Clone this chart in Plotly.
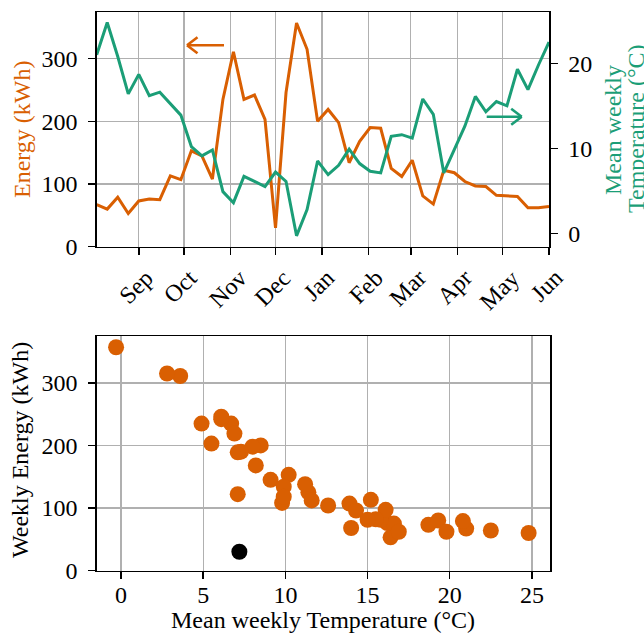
import plotly.graph_objects as go

# ---------------- data ----------------
weeks = [
    "2014-08-04", "2014-08-11", "2014-08-18", "2014-08-25",
    "2014-09-01", "2014-09-08", "2014-09-15", "2014-09-22", "2014-09-29",
    "2014-10-06", "2014-10-13", "2014-10-20", "2014-10-27",
    "2014-11-03", "2014-11-10", "2014-11-17", "2014-11-24",
    "2014-12-01", "2014-12-08", "2014-12-15", "2014-12-22", "2014-12-29",
    "2015-01-05", "2015-01-12", "2015-01-19", "2015-01-26",
    "2015-02-02", "2015-02-09", "2015-02-16", "2015-02-23",
    "2015-03-02", "2015-03-09", "2015-03-16", "2015-03-23", "2015-03-30",
    "2015-04-06", "2015-04-13", "2015-04-20", "2015-04-27",
    "2015-05-04", "2015-05-11", "2015-05-18", "2015-05-25",
    "2015-06-01",
]
energy_kwh = [
    67, 60, 79, 53, 73, 76, 75, 113, 107,
    153, 145, 108, 235, 311, 235, 242, 203,
    30, 246, 357, 315, 200, 219, 198, 134, 168,
    190, 189, 125, 112, 138, 81, 68, 122, 118,
    104, 97, 96, 82, 81, 80, 62, 62, 64,
]
temp_c = [
    21.0, 24.8, 20.8, 16.4, 18.7, 16.2, 16.6, 15.2, 13.9,
    10.2, 9.1, 9.8, 4.9, 3.6, 6.7, 6.1, 5.5,
    7.2, 6.1, -0.3, 2.8, 8.5, 6.9, 8.0, 9.9, 8.2,
    7.3, 7.1, 11.4, 11.6, 11.2, 15.8, 14.0, 7.1, 9.9,
    12.6, 16.1, 14.3, 15.5, 15.0, 19.3, 16.9, 19.8, 22.5,
]
outlier_week = "2014-12-01"

month_ticks = ["2014-09-01", "2014-10-01", "2014-11-01", "2014-12-01",
               "2015-01-01", "2015-02-01", "2015-03-01", "2015-04-01",
               "2015-05-01", "2015-06-01"]
month_labels = ["Sep", "Oct", "Nov", "Dec", "Jan", "Feb", "Mar", "Apr", "May", "Jun"]
energy_ticks = [0, 100, 200, 300]
temp_ticks = [0, 10, 20]
scatter_x_ticks = [0, 5, 10, 15, 20, 25]

# ---------------- style ----------------
ORANGE = "#D95F02"
GREEN = "#1B9E77"
GRID = "#b0b0b0"
FONT = "Liberation Serif"
FS = 24
W, H = 644, 642


def px(x):
    return x / W


def py(y):
    return 1 - y / H


fig = go.Figure()

fig.add_trace(go.Scatter(x=weeks, y=energy_kwh, mode="lines",
                         line=dict(color=ORANGE, width=3),
                         xaxis="x", yaxis="y", showlegend=False))
fig.add_trace(go.Scatter(x=weeks, y=temp_c, mode="lines",
                         line=dict(color=GREEN, width=3),
                         xaxis="x", yaxis="y2", showlegend=False))

normal = [i for i, w in enumerate(weeks) if w != outlier_week]
odd = [i for i, w in enumerate(weeks) if w == outlier_week]
fig.add_trace(go.Scatter(x=[temp_c[i] for i in normal], y=[energy_kwh[i] for i in normal],
                         mode="markers", marker=dict(color=ORANGE, size=16, line=dict(width=0)),
                         xaxis="x2", yaxis="y3", showlegend=False))
fig.add_trace(go.Scatter(x=[temp_c[i] for i in odd], y=[energy_kwh[i] for i in odd],
                         mode="markers", marker=dict(color="black", size=16, line=dict(width=0)),
                         xaxis="x2", yaxis="y3", showlegend=False))

axis_common = dict(
    showline=True, linecolor="black", linewidth=1.5,
    ticks="outside", ticklen=7, tickwidth=1.5, tickcolor="black",
    zeroline=False, automargin=False,
    tickfont=dict(family=FONT, size=FS, color="black"),
)

top_dom_x = [px(96.7), px(549)]
top_dom_y = [py(246.7), py(12.3)]
bot_dom_x = [px(96.7), px(550)]
bot_dom_y = [py(570.5), py(336)]

fig.update_layout(
    width=W, height=H, autosize=False,
    margin=dict(l=0, r=0, t=0, b=0),
    paper_bgcolor="white", plot_bgcolor="white",
    hovermode=False,
    font=dict(family=FONT, size=FS, color="black"),
    xaxis=dict(domain=top_dom_x, anchor="y", type="date",
               range=["2014-08-04", "2015-06-01"],
               tickvals=month_ticks, showticklabels=False,
               showgrid=True, gridcolor=GRID, gridwidth=1.3, mirror=True,
               **axis_common),
    yaxis=dict(domain=top_dom_y, anchor="x", range=[0, 374],
               tickvals=energy_ticks, showgrid=True, gridcolor=GRID, gridwidth=1.3,
               ticklabelstandoff=6, **axis_common),
    yaxis2=dict(overlaying="y", side="right", anchor="x", range=[-1.58, 26.0],
                tickvals=temp_ticks, showgrid=False, ticklabelstandoff=6,
                **axis_common),
    xaxis2=dict(domain=bot_dom_x, anchor="y3", range=[-1.48, 26.1],
                tickvals=scatter_x_ticks, showgrid=True, gridcolor=GRID, gridwidth=1.3,
                mirror=True, ticklabelstandoff=-5, **axis_common),
    yaxis3=dict(domain=bot_dom_y, anchor="x2", range=[0, 375],
                tickvals=energy_ticks, showgrid=True, gridcolor=GRID, gridwidth=1.3,
                mirror=True, ticklabelstandoff=6, **axis_common),
)

ann = []
for d, lab in zip(month_ticks, month_labels):
    ann.append(dict(x=d, xref="x", y=py(262), yref="paper", text=lab,
                    showarrow=False, textangle=-45, xanchor="center", yanchor="top",
                    xshift=-3,
                    font=dict(family=FONT, size=FS, color="black")))
ann.append(dict(x=px(22), y=py(129), xref="paper", yref="paper", text="Energy (kWh)",
                showarrow=False, textangle=-90, xanchor="center", yanchor="middle",
                font=dict(family=FONT, size=FS, color=ORANGE)))
ann.append(dict(x=px(613), y=py(130), xref="paper", yref="paper",
                text="Mean weekly",
                showarrow=False, textangle=-90, xanchor="center", yanchor="middle",
                font=dict(family=FONT, size=FS, color=GREEN)))
ann.append(dict(x=px(636), y=py(129), xref="paper", yref="paper",
                text="Temperature (°C)",
                showarrow=False, textangle=-90, xanchor="center", yanchor="middle",
                font=dict(family=FONT, size=FS, color=GREEN)))
ann.append(dict(x=px(20), y=py(450), xref="paper", yref="paper", text="Weekly Energy (kWh)",
                showarrow=False, textangle=-90, xanchor="center", yanchor="middle",
                font=dict(family=FONT, size=FS, color="black")))
ann.append(dict(x=px(323.4), y=py(620), xref="paper", yref="paper",
                text="Mean weekly Temperature (°C)",
                showarrow=False, xanchor="center", yanchor="middle",
                font=dict(family=FONT, size=FS, color="black")))
fig.update_layout(annotations=ann)


# open-headed arrows (paper coordinates)
def arrow(x0, x1, y, color, head_dx, head_dy):
    segs = [(x0, y, x1, y), (x1, y, x1 + head_dx, y - head_dy), (x1, y, x1 + head_dx, y + head_dy)]
    out = []
    for a, b, c, d in segs:
        out.append(dict(type="line", xref="paper", yref="paper",
                        x0=px(a), y0=py(b), x1=px(c), y1=py(d),
                        line=dict(color=color, width=2.6)))
    return out


shapes = arrow(224, 187, 45.3, ORANGE, 10.5, 8) + arrow(486.7, 521.7, 116.7, GREEN, -10.5, 8)
fig.update_layout(shapes=shapes)

fig.write_html("out.html",
               config={"displayModeBar": False, "staticPlot": True},
               post_script="document.body.style.margin='0';document.body.style.padding='0';"
                           "document.body.style.overflow='hidden';")
